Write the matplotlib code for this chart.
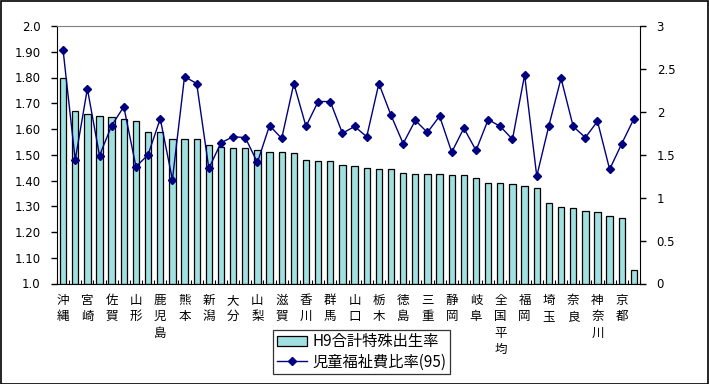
import matplotlib
matplotlib.use("Agg")
import matplotlib.pyplot as plt
from matplotlib.patches import Rectangle
import numpy as np

plt.rcParams['font.family'] = ['Noto Sans CJK JP', 'DejaVu Sans']

categories = ["沖縄", "福島", "宮崎", "島根", "佐賀", "長崎", "山形", "鳥取", "鹿児島", "岩手",
              "熊本", "福井", "新潟", "長野", "大分", "秋田", "山梨", "富山", "滋賀", "愛媛",
              "香川", "岡山", "群馬", "石川", "山口", "青森", "栃木", "高知", "徳島", "茨城",
              "三重", "広島", "静岡", "和歌山", "岐阜", "愛知", "全国平均", "兵庫", "福岡", "宮城",
              "埼玉", "千葉", "奈良", "大阪", "神奈川", "北海道", "京都", "東京"]

tfr = [1.80, 1.67, 1.66, 1.65, 1.645, 1.64, 1.63, 1.59, 1.587, 1.563,
       1.56, 1.56, 1.536, 1.532, 1.525, 1.525, 1.517, 1.51, 1.51, 1.505,
       1.478, 1.474, 1.474, 1.462, 1.455, 1.447, 1.443, 1.443, 1.431, 1.427,
       1.427, 1.424, 1.42, 1.42, 1.408, 1.392, 1.389, 1.385, 1.377, 1.369,
       1.311, 1.299, 1.295, 1.28, 1.276, 1.264, 1.256, 1.054]

welfare = [2.72, 1.44, 2.27, 1.49, 1.84, 2.06, 1.36, 1.50, 1.92, 1.21,
           2.41, 2.33, 1.34, 1.64, 1.71, 1.70, 1.41, 1.84, 1.69, 2.33,
           1.83, 2.12, 2.12, 1.75, 1.83, 1.71, 2.33, 1.96, 1.63, 1.90,
           1.76, 1.95, 1.53, 1.81, 1.55, 1.91, 1.83, 1.68, 2.43, 1.25,
           1.84, 2.39, 1.83, 1.70, 1.89, 1.33, 1.63, 1.92]

left_ticks = [1.0, 1.1, 1.2, 1.3, 1.4, 1.5, 1.6, 1.7, 1.8, 1.9, 2.0]
left_labels = ["1.0", "1.10", "1.20", "1.30", "1.40", "1.50", "1.60", "1.70", "1.80", "1.90", "2.0"]
right_ticks = [0, 0.5, 1, 1.5, 2, 2.5, 3]
right_labels = ["0", "0.5", "1", "1.5", "2", "2.5", "3"]

W, H = 709, 384
fig = plt.figure(figsize=(W / 100, H / 100), dpi=100)
fig.patches.append(Rectangle((0.5 / W, 0.5 / H), 1 - 1.5 / W, 1 - 1.5 / H, transform=fig.transFigure,
                             fill=False, edgecolor='black', linewidth=1.2))

ax = fig.add_axes([57 / W, 1 - 283.5 / H, (640 - 57) / W, (283.5 - 26) / H])
x = np.arange(len(categories))
ax.bar(x, [v - 1.0 for v in tfr], bottom=1.0, width=0.52, color='#A0E0E0', edgecolor='black',
       linewidth=0.9, label='H9合計特殊出生率', zorder=2)
ax.set_ylim(1.0, 2.0)
ax.set_xlim(-0.5, len(categories) - 0.5)
ax.set_yticks(left_ticks)
ax.set_yticklabels(left_labels, family=['DejaVu Sans'], fontsize=8.5)
ax.tick_params(axis='y', direction='out', length=4, width=1, pad=8)

ax.set_xticks(np.arange(-0.5, len(categories), 1), minor=False)
ax.set_xticklabels([])
ax.tick_params(axis='x', direction='in', length=3, width=0.8)
for i in range(0, len(categories) - 1, 2):
    name = categories[i]
    ax.text(i, -0.04, "\n".join(name), transform=ax.get_xaxis_transform(), ha='center', va='top',
            fontsize=9, linespacing=1.35)

ax.spines['top'].set_color('#808080')
ax.spines['right'].set_visible(False)

ax2 = ax.twinx()
line, = ax2.plot(x, welfare, color='#000080', linewidth=1, marker='D', markersize=4.5,
                 markerfacecolor='#000080', markeredgecolor='#000080', label='児童福祉費比率(95)', zorder=3)
ax2.set_ylim(0, 3)
ax2.set_yticks(right_ticks)
ax2.set_yticklabels(right_labels, family=['DejaVu Sans'], fontsize=8.5)
ax2.tick_params(axis='y', direction='out', length=4, width=1, pad=8)
ax2.spines['top'].set_visible(False)
ax2.spines['left'].set_visible(False)
ax2.spines['bottom'].set_visible(False)

handles = [ax.patches[0], line]
leg = fig.legend(handles, ['H9合計特殊出生率', '児童福祉費比率(95)'], loc='center',
                 bbox_to_anchor=(361.5 / W, 1 - 352 / H), frameon=True, fancybox=False,
                 edgecolor='black', fontsize=11, handlelength=2.0, borderpad=0.25,
                 labelspacing=0.2, handletextpad=0.3, borderaxespad=0)
leg.get_frame().set_linewidth(0.9)

fig.savefig("out.png", dpi=100)
